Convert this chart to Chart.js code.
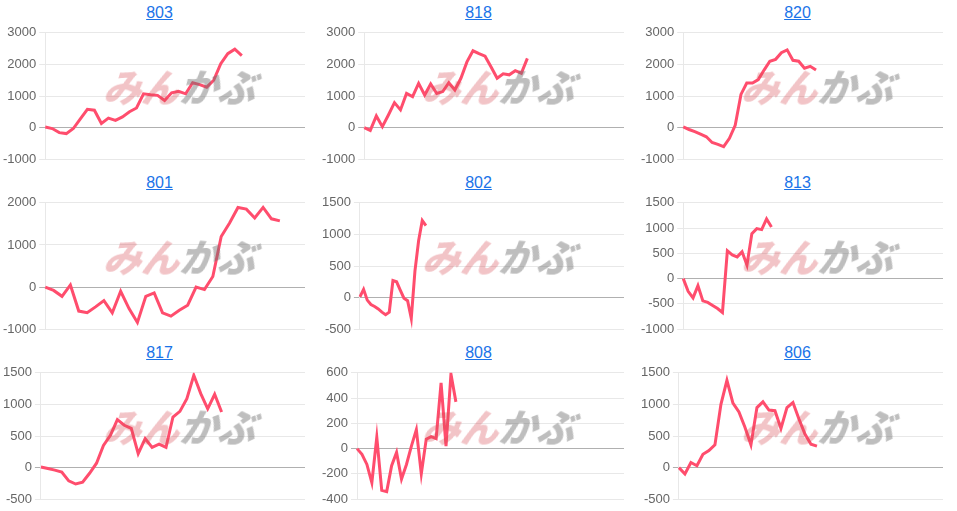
<!DOCTYPE html>
<html>
<head>
<meta charset="utf-8">
<script src="https://cdn.jsdelivr.net/npm/chart.js@4"></script>
<style>
  body { margin: 0; background: #fff; font-family: Arial, "Liberation Sans", sans-serif; }
  .panel { position: absolute; width: 319px; height: 170px; }
  .panel a { position: absolute; top: 4px; left: 0; width: 100%; text-align: center; font-size: 16px; color: #1a73e8; text-decoration: underline; }
  .panel canvas { position: absolute; top: 22px; left: 0; }
  .wm { position: absolute; font: 900 38px "Noto Sans CJK JP", sans-serif; letter-spacing: 0px; transform: skewX(-18deg); pointer-events: none; }
  .wm .a { color: rgba(215, 70, 80, 0.32); }
  .wm .b { color: rgba(110, 110, 110, 0.45); }
</style>
</head>
<body>
<div id="grid"></div>
<script>
// chart titles
const titles = ["803", "818", "820", "801", "802", "813", "817", "808", "806"];

// series values
const s803 = [20, -30, -160, -190, -30, 280, 580, 550, 130, 300, 230, 340, 500, 620, 1070, 1040, 1020, 860, 1100, 1150, 1070, 1420, 1360, 1280, 1500, 2020, 2340, 2480, 2280];
const s818 = [0, -90, 370, 30, 400, 790, 560, 1080, 980, 1400, 1030, 1380, 1080, 1140, 1420, 1190, 1560, 2080, 2430, 2340, 2260, 1920, 1560, 1700, 1670, 1800, 1720, 2190];
const s820 = [20, -60, -130, -210, -290, -470, -530, -600, -340, 70, 1050, 1410, 1410, 1520, 1820, 2100, 2160, 2370, 2460, 2130, 2100, 1880, 1940, 1820];
const s801 = [0, -80, -220, 50, -570, -610, -470, -320, -610, -100, -510, -840, -220, -140, -610, -690, -550, -430, 0, -60, 250, 1200, 1520, 1890, 1850, 1640, 1890, 1620, 1570];
const s802 = [10, 130, -40, -110, -140, -180, -230, -270, -230, 270, 250, 120, -10, -50, -330, 420, 900, 1220, 1140];
const s813 = [0, -250, -380, -140, -440, -470, -530, -590, -670, 550, 470, 430, 530, 270, 890, 990, 970, 1180, 1020];
const s817 = [10, -15, -40, -70, -210, -260, -230, -90, 70, 350, 510, 760, 670, 620, 220, 460, 320, 370, 320, 800, 890, 1090, 1460, 1170, 930, 1160, 880];
const s808 = [0, -45, -125, -270, 90, -330, -340, -135, -30, -240, -125, 20, 150, -200, 75, 95, 80, 520, 20, 590, 370];
const s806 = [0, -100, 80, 30, 210, 270, 360, 1000, 1380, 1020, 880, 640, 360, 950, 1040, 910, 900, 620, 950, 1030, 770, 530, 370, 340];
const series = [s803, s818, s820, s801, s802, s813, s817, s808, s806];

// number of x slots per chart
const slotCounts = [38, 44, 46, 32, 73, 54, 39, 55, 45];

// y axis ranges: [min, max, step]
const yRanges = [
  [-1000, 3000, 1000], [-1000, 3000, 1000], [-1000, 3000, 1000],
  [-1000, 2000, 1000], [-500, 1500, 500], [-1000, 1500, 500],
  [-500, 1500, 500], [-400, 600, 200], [-500, 1500, 500]
];

const grid = document.getElementById("grid");

titles.forEach((title, i) => {
  const col = i % 3, row = Math.floor(i / 3);
  const panel = document.createElement("div");
  panel.className = "panel";
  panel.style.left = (col * 319) + "px";
  panel.style.top = (row * 170) + "px";
  panel.innerHTML = `<a href="#">${title}</a><canvas width="319" height="148"></canvas>
    <div class="wm" style="left:108px; top:58px;"><span class="a">みん</span><span class="b">かぶ</span></div>`;
  grid.appendChild(panel);

  const labels = Array.from({ length: slotCounts[i] }, (_, k) => k + 1);
  const [ymin, ymax, ystep] = yRanges[i];

  new Chart(panel.querySelector("canvas"), {
    type: "line",
    data: {
      labels: labels,
      datasets: [{
        data: series[i],
        borderColor: "#ff4d6d",
        borderWidth: 3,
        pointRadius: 0,
        tension: 0,
        fill: false
      }]
    },
    options: {
      responsive: false,
      animation: false,
      layout: { padding: { top: 4, right: 14, bottom: 4, left: 0 } },
      plugins: { legend: { display: false }, tooltip: { enabled: false } },
      scales: {
        x: { display: false },
        y: {
          min: ymin,
          max: ymax,
          ticks: { stepSize: ystep, color: "#666", font: { size: 13 }, callback: v => String(v) },
          border: { color: "#e8e8e8" },
          grid: {
            drawTicks: true,
            tickLength: 6,
            color: c => c.tick && c.tick.value === 0 ? "#b0b0b0" : "#e8e8e8"
          }
        }
      }
    }
  });
});
</script>
</body>
</html>
